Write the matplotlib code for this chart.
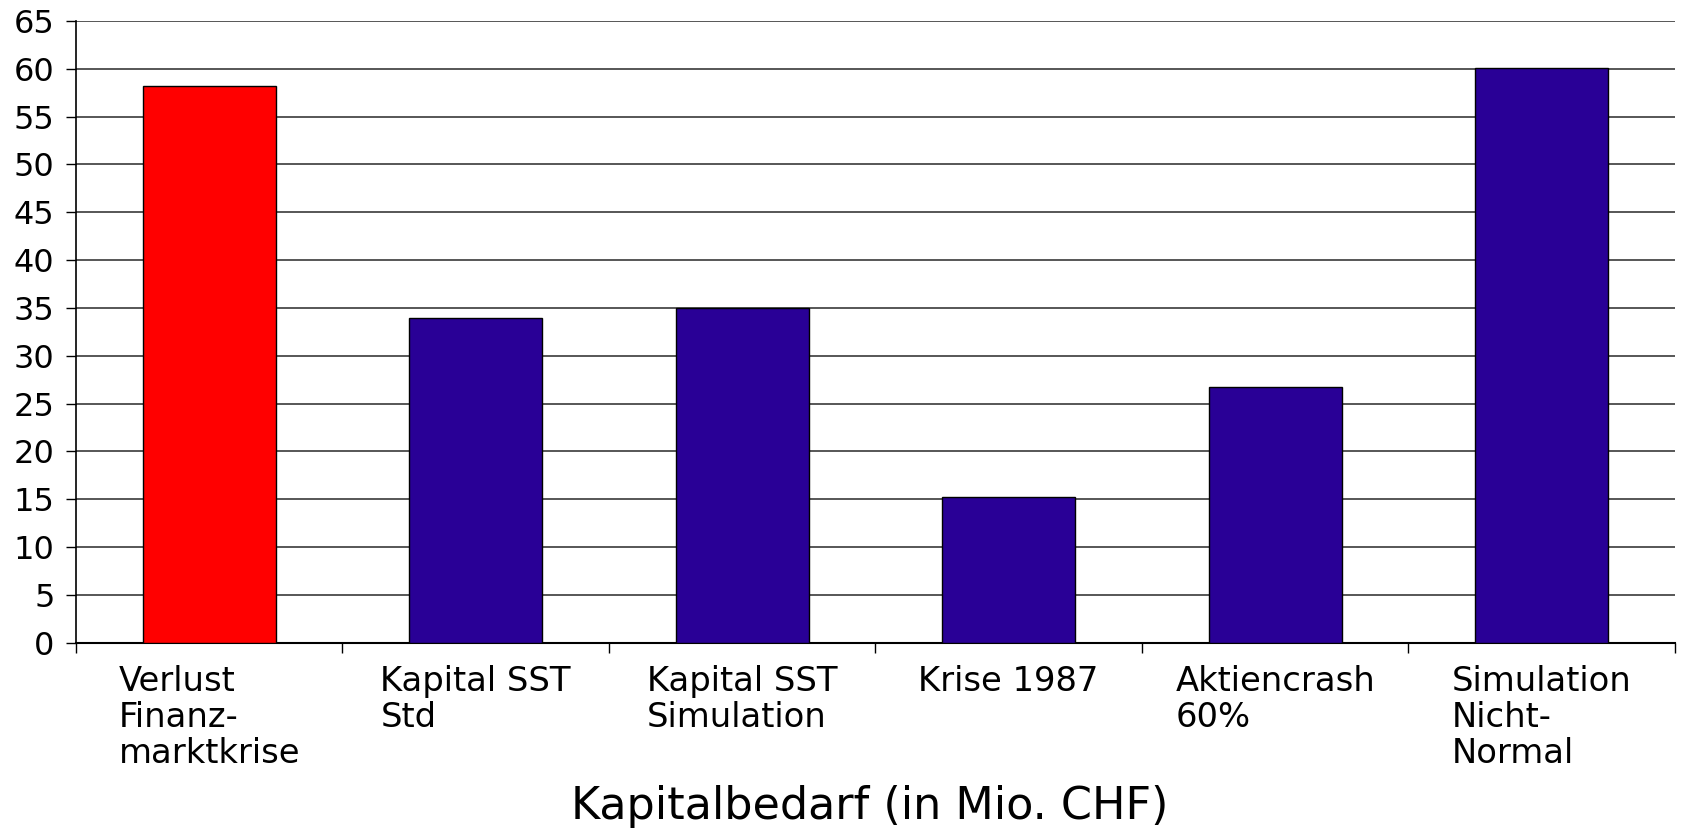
import matplotlib
matplotlib.use("Agg")
import matplotlib.pyplot as plt

# Data
categories = ["Verlust\nFinanz-\nmarktkrise", "Kapital SST\nStd", "Kapital SST\nSimulation",
              "Krise 1987", "Aktiencrash\n60%", "Simulation\nNicht-\nNormal"]
values = [58.2, 33.9, 35.0, 15.2, 26.7, 60.1]
colors = ["#ff0000", "#290096", "#290096", "#290096", "#290096", "#290096"]
y_ticks = list(range(0, 70, 5))

plt.rcParams["font.family"] = ["DejaVu Sans"]

fig = plt.figure(figsize=(16.85, 8.31), dpi=100)
ax = fig.add_axes([0.0451, 0.2266, 0.9489, 0.7481])

x = list(range(len(categories)))
ax.bar(x, values, width=0.5, color=colors, edgecolor="black", linewidth=1.0, zorder=3)

ax.set_xlim(-0.5, len(categories) - 0.5)
ax.set_ylim(0, 65)
ax.set_yticks(y_ticks)
ax.tick_params(axis="y", labelsize=23, length=7.5, width=1.0, pad=8)
ax.yaxis.grid(True, color="#3a3a3a", linewidth=1.2, zorder=0)
ax.set_axisbelow(True)

# category boundaries as major ticks, labels on minor ticks at centres
ax.set_xticks([i - 0.5 for i in range(len(categories) + 1)])
ax.set_xticklabels([])
ax.tick_params(axis="x", which="major", length=7.5, width=1.0)
ax.set_xticks(x, categories, minor=True)
ax.tick_params(axis="x", which="minor", length=0, labelsize=24.3, pad=16)
for t in ax.get_xticklabels(minor=True):
    t.set_multialignment("left")
    t.set_verticalalignment("top")
    t.set_linespacing(1.12)

for side in ["top", "right"]:
    ax.spines[side].set_visible(False)
ax.spines["left"].set_linewidth(1.2)
ax.spines["bottom"].set_linewidth(1.5)

fig.text(0.516, 0.029, "Kapitalbedarf (in Mio. CHF)", ha="center", va="center", fontsize=32)

fig.savefig("out.png", dpi=100)
